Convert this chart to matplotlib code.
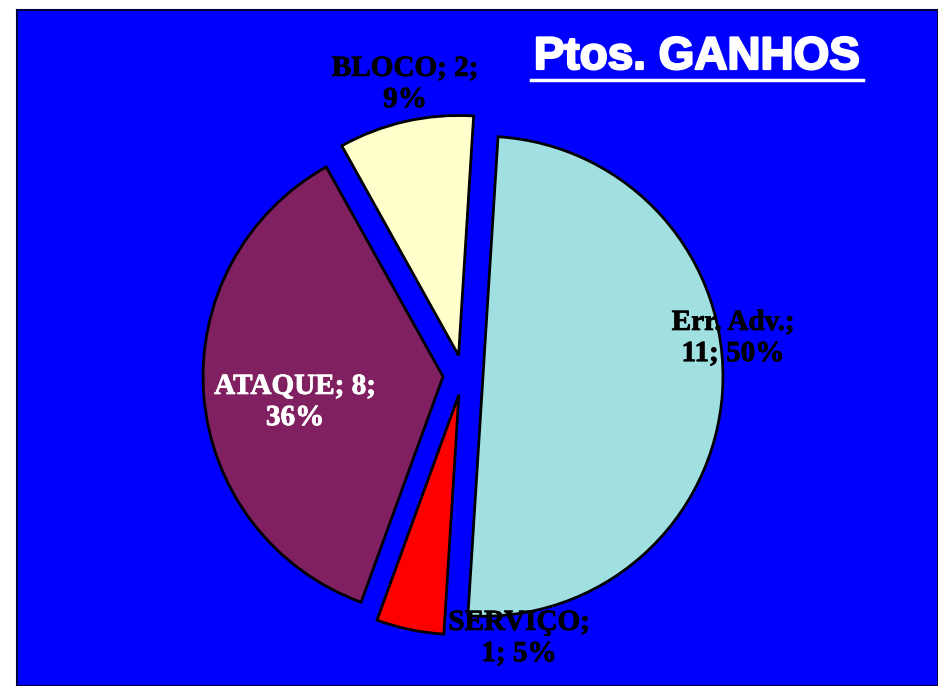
import matplotlib
matplotlib.use("Agg")
import matplotlib.pyplot as plt
import matplotlib.patheffects as pe
from matplotlib.lines import Line2D

# points won, by type
categories = ["Err. Adv.", "SERVIÇO", "ATAQUE", "BLOCO"]
values = [11, 1, 8, 2]
# where each label wraps: True -> "name;\nN; P%", False -> "name; N;\nP%"
wrap_after_name = [True, True, False, False]
label_pos = [(733, 348), (519, 48), (295, 284), (405, 602)]
label_colors = ["black", "black", "white", "black"]
colors = ["#A0E0E0", "#FF0000", "#802060", "#FFFFCC"]
title = "Ptos. GANHOS"

W, H = 938, 686
fig = plt.figure(figsize=(W / 100, H / 100), dpi=100)
fig.patch.set_facecolor("white")

# blue panel in pixel-like data units (y up)
x0, y_top = 17, 10
ax = fig.add_axes([x0 / W, 0, (W - x0) / W, (H - y_top) / H])
ax.set_facecolor("#0000FF")
ax.set_xlim(x0, W)
ax.set_ylim(0, H - y_top)
ax.set_aspect("equal")
ax.set_xticks([])
ax.set_yticks([])
for s in ax.spines.values():
    s.set_color("#000040")
    s.set_linewidth(1.5)

total = sum(values)
center = (463, H - 375)
ax.pie(
    values,
    colors=colors,
    explode=[20] * len(values),
    center=center,
    radius=240,
    startangle=86.4,
    counterclock=False,
    wedgeprops=dict(edgecolor="black", linewidth=2),
    frame=True,
)
ax.set_xlim(x0, W)
ax.set_ylim(0, H - y_top)

for name, v, wrap, (lx, ly), c in zip(categories, values, wrap_after_name, label_pos, label_colors):
    pct = round(100 * v / total)
    if wrap:
        txt = f"{name};\n{v}; {pct}%"
    else:
        txt = f"{name}; {v};\n{pct}%"
    ax.text(lx, ly, txt, ha="center", va="center", color=c,
            fontsize=21, fontweight="bold", family="Liberation Serif",
            linespacing=1.2,
            path_effects=[pe.withStroke(linewidth=0.6, foreground=c)])

t = ax.text(697, H - 57, title, ha="center", va="center", color="white",
            fontsize=33, fontweight="bold", family="Liberation Sans",
            path_effects=[pe.withStroke(linewidth=1.6, foreground="white")])

# underline under the title
fig.canvas.draw()
bb = t.get_window_extent().transformed(ax.transData.inverted())
uy = H - 80
ax.add_line(Line2D([bb.x0 - 3, bb.x1 + 3], [uy, uy], color="white", linewidth=2.5))

fig.savefig("out.png", dpi=100)
